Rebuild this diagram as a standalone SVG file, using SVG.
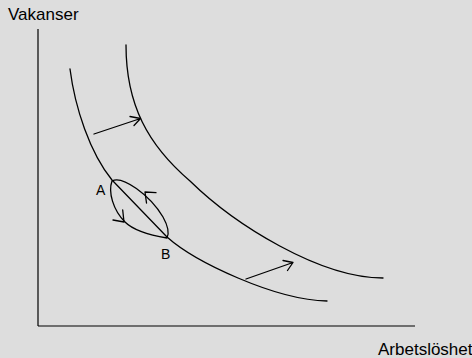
<svg xmlns="http://www.w3.org/2000/svg" width="472" height="358" viewBox="0 0 472 358">
<style>
.ln{fill:none;stroke:#000;stroke-width:1.3;stroke-linecap:round;stroke-linejoin:round}
.ax{fill:none;stroke:#000;stroke-width:1.2}
text{font-family:"Liberation Sans",Arial,sans-serif;fill:#000}
.lbl{font-size:17px}
.pt{font-size:14px}
</style>
<rect width="472" height="358" fill="#dddddd"/>
<g id="axes">
<line class="ax" x1="38" y1="29" x2="38" y2="326"/>
<line class="ax" x1="38" y1="326" x2="415" y2="326"/>
</g>
<g id="label-y"><text class="lbl" x="8" y="20">Vakanser</text></g>
<g id="label-x"><text class="lbl" x="378" y="355">Arbetslöshet</text></g>
<g id="curve-inner">
<path class="ln" d="M70,69 C75,108 90,153 112,180 L167,237 C195,262 275,300 327,301"/>
</g>
<g id="curve-outer">
<path class="ln" d="M126,45 C126,105 148,145 190,181 C235,225 320,278 383,278"/>
</g>
<g id="label-A"><text class="pt" x="96" y="195">A</text></g>
<g id="label-B"><text class="pt" x="161" y="259">B</text></g>
<g id="connectors">
<path class="ln" d="M94,134 L140.5,118.5 M130,116.5 L140.5,118.5 L134,125.5"/>
<path class="ln" d="M246,279 L293,262.5 M283,260.5 L293,262.5 L287.5,270.5"/>
<path class="ln" d="M112,181 C122,175 150,195 163,217 C168,226 169,234 167,238 C155,236 135,232 125,222 C113,210 108,192 112,181"/>
<path class="ln" d="M113,220 L124,222 L122.7,210"/>
<path class="ln" d="M156,192.7 L145,192 L146.5,203"/>
</g>
</svg>
